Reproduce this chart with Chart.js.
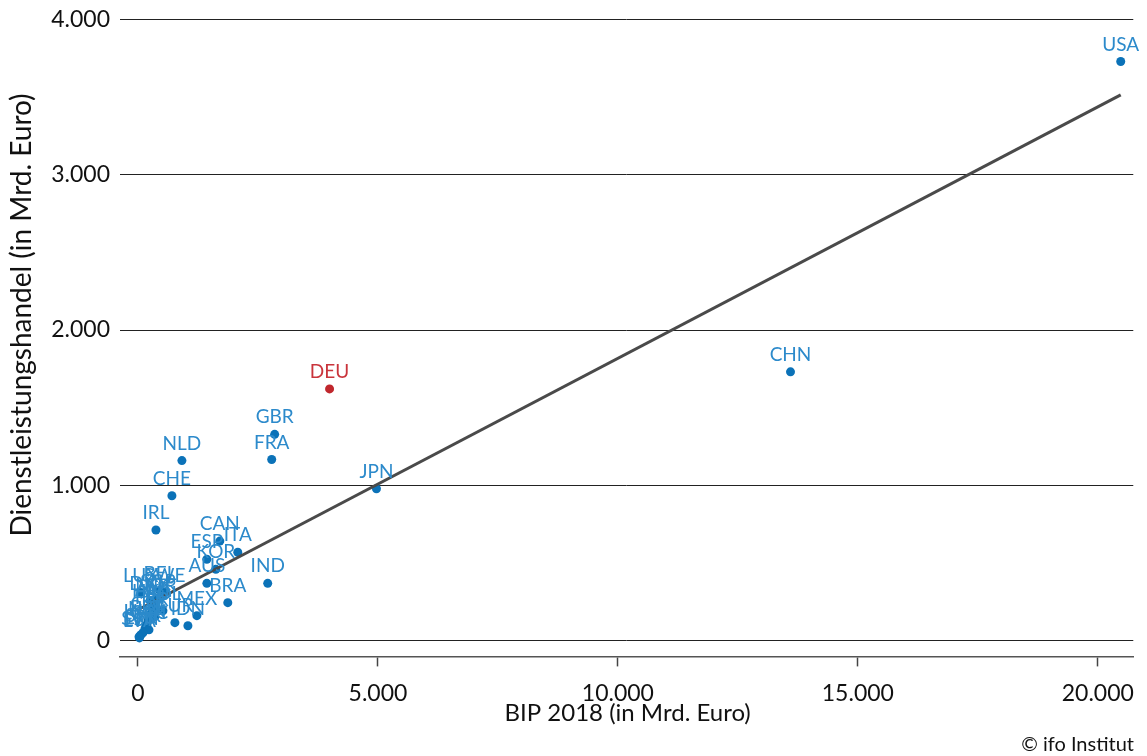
<!DOCTYPE html>
<html>
<head>
<meta charset="utf-8">
<script src="https://cdn.jsdelivr.net/npm/chart.js@4"></script>
<style>
  html, body { margin: 0; padding: 0; background: #fff; }
  #wrap { width: 1147px; height: 756px; position: relative; }
</style>
</head>
<body>
<div id="wrap"><canvas id="bip"></canvas></div>
<script>
// Werte (BIP 2018 und Dienstleistungshandel, Mrd. Euro)
const countries = ['USA','CHN','DEU','JPN','GBR','FRA','NLD','CHE','IRL','CAN','ITA','ESP','KOR','AUS','IND','BRA','MEX','IDN',
  'LUX','BEL','SWE','DNK','NOR','SGP','AUT','HKG','POL','ISR','FIN','TUR','CZE','NZL','PRT','HUN','GRC','SVK','LTU','SVN','EST','LVA'];
const gdp = [20478,13597,3992,4969,2848,2786,915,707,374,1705,2079,1435,1622,1435,2703,1871,1227,1040,
  60,457,561,250,374,416,333,291,520,353,250,769,208,166,187,146,229,104,62,42,21,30];
const services = [3728,1731,1621,979,1329,1167,1160,934,713,642,570,525,460,370,370,246,162,97,
  311,324,311,259,246,272,220,207,194,156,169,117,130,97,104,78,71,52,39,32,26,19];
const highlight = 'DEU';

// Regressionsgerade
const trendIntercept = 200;
const trendSlope = 0.1618;

const xTicks = [0, 5000, 10000, 15000, 20000];
const yTicks = [0, 1000, 2000, 3000, 4000];

const blue = '#0b72b8', blueText = '#2c8acb';
const red = '#c0272d', redText = '#c9343b';
const fontFam = 'Lato, "Liberation Sans", sans-serif';

const points = gdp.map((v, i) => ({ x: v, y: services[i] }));
const xMin = Math.min(...gdp), xMax = Math.max(...gdp);
const trend = [xMin, xMax].map(v => ({ x: v, y: trendIntercept + trendSlope * v }));

const fmt = v => v.toLocaleString('de-DE');

const labelPlugin = {
  id: 'labels',
  afterDatasetsDraw(chart) {
    const ctx = chart.ctx;
    const meta = chart.getDatasetMeta(0);
    ctx.save();
    ctx.font = '19px ' + fontFam;
    ctx.textAlign = 'center';
    ctx.textBaseline = 'middle';
    meta.data.forEach((el, i) => {
      ctx.fillStyle = countries[i] === highlight ? redText : blueText;
      ctx.fillText(countries[i], el.x, el.y - 17);
    });
    ctx.restore();
  }
};

const extraText = {
  id: 'extraText',
  afterDraw(chart) {
    const ctx = chart.ctx, a = chart.chartArea;
    ctx.save();
    ctx.fillStyle = '#111';
    ctx.font = '24px ' + fontFam;
    ctx.textAlign = 'center';
    ctx.textBaseline = 'middle';
    ctx.fillText('BIP 2018 (in Mrd. Euro)', (a.left + a.right) / 2 + 1, 713);
    // y-Achsentitel
    ctx.save();
    ctx.translate(22, 315);
    ctx.rotate(-Math.PI / 2);
    ctx.font = '28px ' + fontFam;
    ctx.fillText('Dienstleistungshandel (in Mrd. Euro)', 0, 0);
    ctx.restore();
    ctx.font = '20px ' + fontFam;
    ctx.textAlign = 'right';
    ctx.fillText('© ifo Institut', 1134, 745);
    ctx.restore();
  }
};

new Chart(document.getElementById('bip'), {
  type: 'scatter',
  data: {
    datasets: [{
      label: 'Länder',
      data: points,
      pointRadius: 4.5,
      pointHoverRadius: 4.5,
      pointBorderWidth: 0,
      pointBackgroundColor: countries.map(c => c === highlight ? red : blue),
      order: 2
    }, {
      type: 'line',
      label: 'Trend',
      data: trend,
      borderColor: '#4a4a4a',
      borderWidth: 3,
      pointRadius: 0,
      fill: false,
      order: 1
    }]
  },
  options: {
    responsive: true,
    maintainAspectRatio: false,
    animation: false,
    layout: { padding: { left: 8, right: 4, top: 11, bottom: 36 } },
    plugins: { legend: { display: false }, tooltip: { enabled: false } },
    scales: {
      x: {
        type: 'linear',
        min: -375,
        max: 20740,
        afterBuildTicks: s => { s.ticks = xTicks.map(v => ({ value: v })); },
        grid: { drawOnChartArea: false, drawTicks: true, tickLength: 10, tickColor: '#444', tickWidth: 1.5 },
        border: { display: true, color: '#555', width: 1.5 },
        ticks: { color: '#111', font: { family: fontFam, size: 23 }, padding: 13, maxRotation: 0, callback: v => fmt(v) }
      },
      y: {
        min: -100,
        max: 4000,
        afterBuildTicks: s => { s.ticks = yTicks.map(v => ({ value: v })); },
        afterFit: s => { s.width = 112; },
        grid: { color: '#222', lineWidth: 1, drawTicks: false },
        border: { display: false },
        ticks: { color: '#111', font: { family: fontFam, size: 23, lineHeight: 0.8 }, padding: 10, callback: v => fmt(v) }
      }
    }
  },
  plugins: [labelPlugin, extraText]
});
</script>
</body>
</html>
